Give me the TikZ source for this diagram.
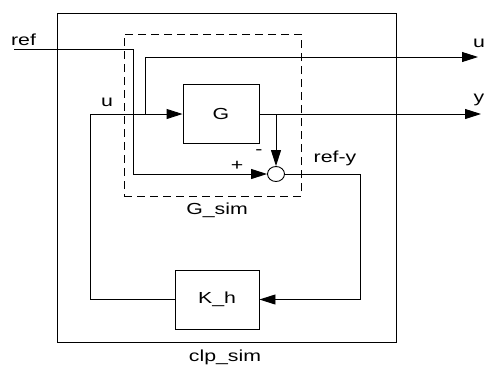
\documentclass[tikz,border=0pt]{standalone}
\usepackage{fontspec}
\setmainfont[FakeStretch=1.33]{Liberation Sans}
\usetikzlibrary{arrows.meta, positioning}
\usetikzlibrary{shapes.geometric}

\tikzset{
  block/.style={draw, line width=0.9pt, minimum width=76pt, minimum height=59pt},
  sumc/.style={draw, ellipse, line width=0.9pt, minimum width=17pt, minimum height=15pt, inner sep=0pt},
  arr/.style={-{Triangle[length=16pt,width=10pt]}},
  lbl/.style={font=\fontsize{16}{18}\selectfont}
}

\begin{document}
\begin{tikzpicture}[x=1pt, y=-1pt, line width=0.9pt, font=\fontsize{16}{18}\selectfont]
  \useasboundingbox (0,0) rectangle (486,365);

  % frames
  \node[draw, minimum width=339pt, minimum height=329pt] (clp) at (226.5,177.5) {};
  \node[draw, dash pattern=on 8pt off 5pt, minimum width=177pt, minimum height=162pt] (Gsim) at (212.5,115) {};

  % blocks
  \node[block] (G) at (221,114) {G};
  \node[block, minimum width=84pt] (K) at (217,299.5) {K\_h};
  \node[sumc] (sum) at (276,174) {};

  % points
  \coordinate (refin) at (14,49);
  \coordinate (refc) at (133,174);
  \coordinate (uc) at (90,114);
  \coordinate (ubr) at (145,114);
  \coordinate (uout) at (478,57);
  \coordinate (yout) at (481,114);
  \coordinate (ybr) at (276,114);
  \coordinate (ec) at (360,174);

  % connectors
  \draw[arr] (refin) -| (refc) -- (sum.west);
  \draw[arr] (K.west) -| (uc) -- (G.west);
  \draw[arr] (ubr) |- (uout);
  \draw[arr] (G.east) -- (yout);
  \draw[arr] (ybr) -- (sum.north);
  \draw[arr] (sum.east) -- (ec) |- (K.east);

  % labels
  \node (lref) at (23.5,40) {ref};
  \node (lu) at (107,102) {u};
  \node[inner sep=0pt] (luo) at (479,43) {u};
  \node[inner sep=0pt] (lyo) at (479,100) {y};
  \node (lplus) at (237,166) {+};
  \node (lminus) at (259,152) {-};
  \node (lrefy) at (335,158) {ref-y};
  \node (lgsim) at (217,210) {G\_sim};
  \node (lclp) at (225,357) {clp\_sim};
\end{tikzpicture}
\end{document}
